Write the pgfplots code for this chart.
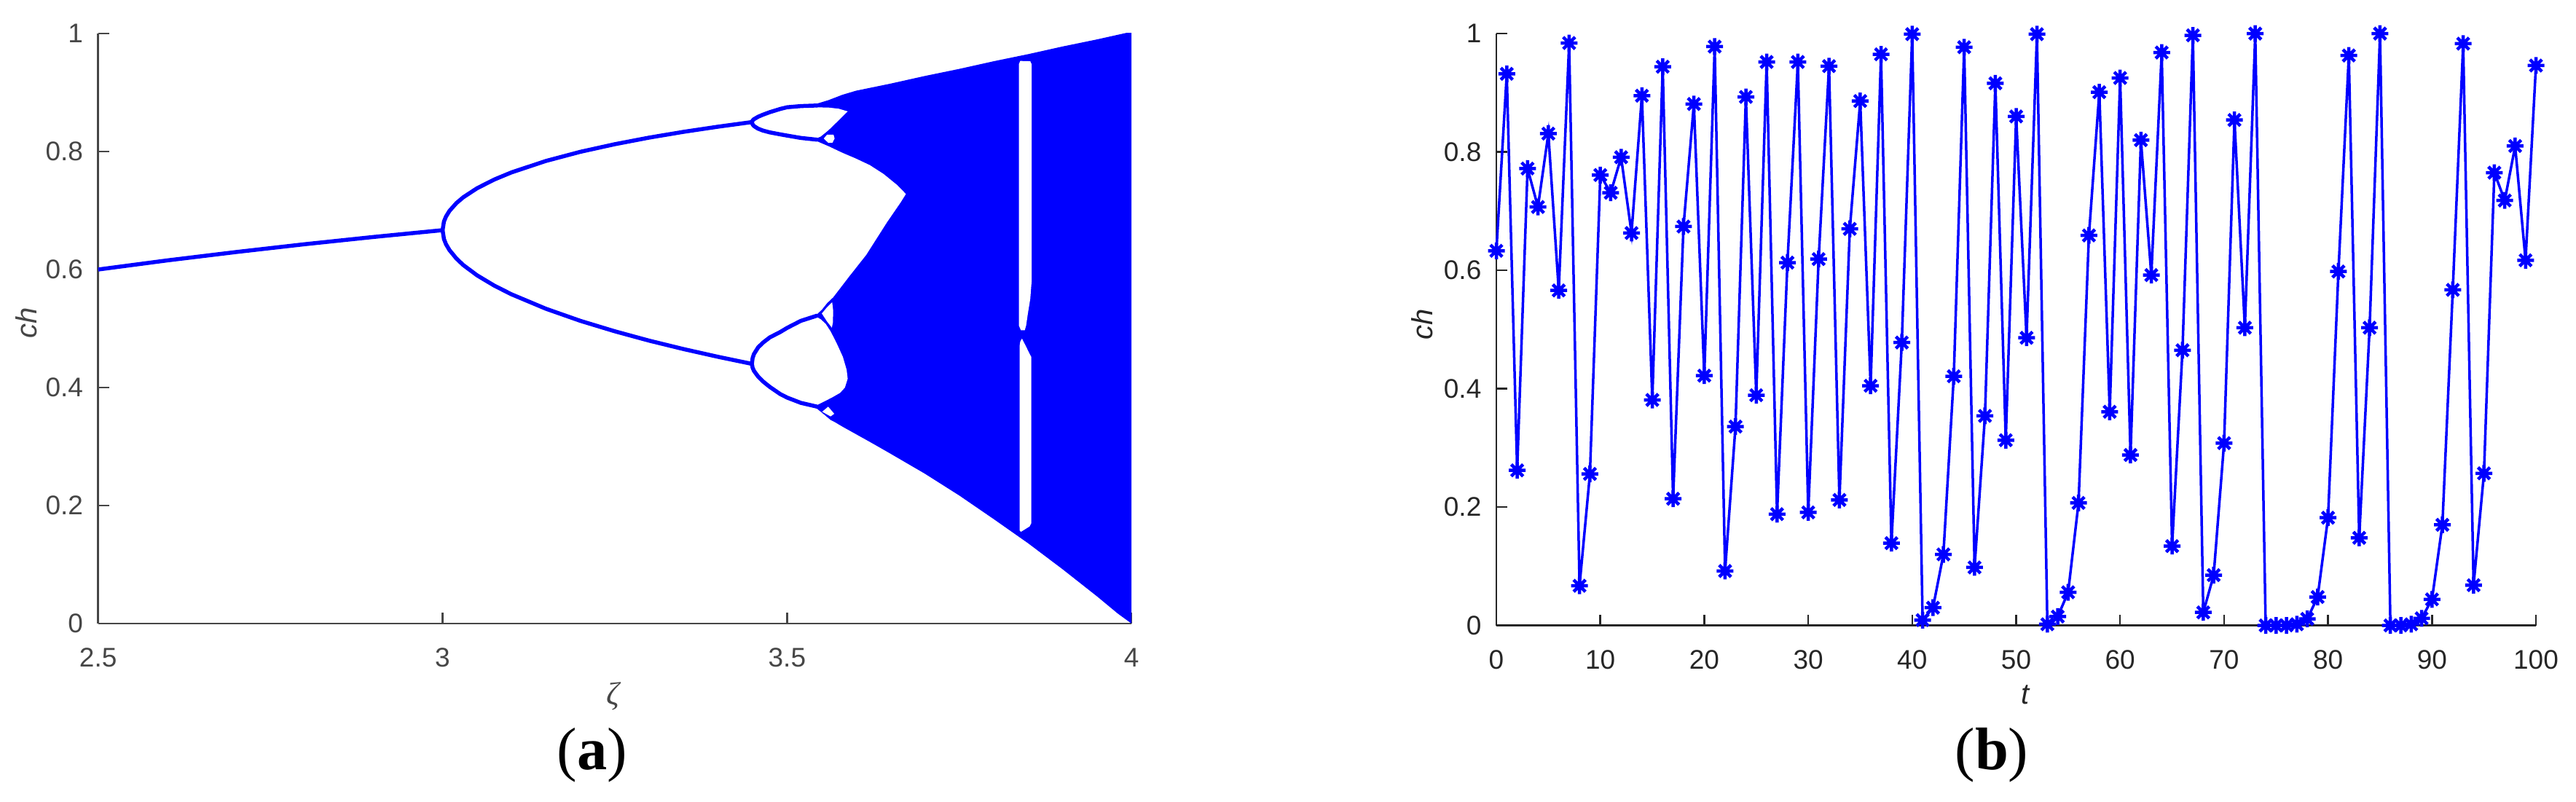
\documentclass[border=0pt]{standalone}
\usepackage{pgfplots}
\pgfplotsset{compat=1.18}
\usepackage{fontspec}
\setmainfont{Liberation Serif}
\setsansfont{Liberation Sans}
\definecolor{mblue}{RGB}{0,0,255}
\definecolor{axA}{RGB}{70,70,70}
\definecolor{axB}{RGB}{38,38,38}
\pgfdeclareplotmark{mstar}{%
  \pgfpathmoveto{\pgfqpoint{0pt}{\pgfplotmarksize}}\pgfpathlineto{\pgfqpoint{0pt}{-\pgfplotmarksize}}%
  \pgfpathmoveto{\pgfqpoint{\pgfplotmarksize}{0pt}}\pgfpathlineto{\pgfqpoint{-\pgfplotmarksize}{0pt}}%
  \pgfpathmoveto{\pgfqpoint{0.707\pgfplotmarksize}{0.707\pgfplotmarksize}}\pgfpathlineto{\pgfqpoint{-0.707\pgfplotmarksize}{-0.707\pgfplotmarksize}}%
  \pgfpathmoveto{\pgfqpoint{-0.707\pgfplotmarksize}{0.707\pgfplotmarksize}}\pgfpathlineto{\pgfqpoint{0.707\pgfplotmarksize}{-0.707\pgfplotmarksize}}%
  \pgfusepathqstroke}
\pgfplotsset{
  matstyle/.style={
    scale only axis, anchor=south west,
    axis x line*=bottom, axis y line*=left,
    axis line style={-, line width=0.5pt},
    tick align=inside, major tick length=3pt,
    ytick={0,0.2,0.4,0.6,0.8,1},
    yticklabels={0,0.2,0.4,0.6,0.8,1},
    ymin=0, ymax=1,
    tick label style={font=\sffamily\fontsize{7.4}{8}\selectfont},
    /pgf/number format/assume math mode=true,
    xticklabel style={yshift=-3.2pt},
    yticklabel style={xshift=-0.6pt},
  }
}
\begin{document}
\begin{tikzpicture}
\useasboundingbox (0,0) rectangle (707.2pt,220pt);
% ---------------- (a) bifurcation diagram ----------------
\begin{axis}[matstyle,
  at={(26.94pt,48.8pt)}, width=283.7pt, height=162pt,
  xmin=2.5, xmax=4,
  xtick={2.5,3,3.5,4}, xticklabels={2.5,3,3.5,4},
  axis line style={draw=axA}, tick style={draw=axA, line width=0.5pt},
  tick label style={text=axA},
  xlabel={\textit{ζ}}, ylabel={\textit{ch}},
  xlabel style={at={(axis description cs:0.4993,-0.1235)}, anchor=center, font=\fontsize{8.8}{9}\selectfont, text=axA},
  ylabel style={at={(axis description cs:-0.0696,0.509)}, anchor=center, font=\sffamily\fontsize{8}{9}\selectfont, text=axA},
]
% chaotic region
\addplot[fill=mblue, draw=none] coordinates {
 (3.543,0.881) (3.56,0.887) (3.58,0.896) (3.6,0.903) (3.65,0.915) (3.7,0.928)
 (3.75,0.940) (3.8,0.953) (3.85,0.965) (3.9,0.978) (3.95,0.990) (4.0,1.003)
 (4.0,0.0) (3.98,0.017) (3.95,0.046) (3.9,0.092) (3.85,0.136) (3.8,0.177)
 (3.75,0.217) (3.7,0.254) (3.65,0.288) (3.62,0.308) (3.6,0.321) (3.58,0.334)
 (3.57,0.341) (3.5633,0.345) (3.55,0.358) (3.543,0.3645)
};
% holes
\addplot[fill=white, draw=none] coordinates {
 (3.538,0.875) (3.56,0.8745) (3.575,0.8725) (3.588,0.868) (3.575,0.853)
 (3.56,0.836) (3.549,0.8255) (3.544,0.823) (3.538,0.823)
};
\addplot[fill=white, draw=none] coordinates {
 (3.5533,0.822) (3.558,0.8285) (3.5675,0.8285) (3.569,0.822) (3.566,0.815) (3.560,0.8145)
};
\addplot[fill=white, draw=none] coordinates {
 (3.538,0.817) (3.544,0.817) (3.56,0.809) (3.58,0.798) (3.60,0.788) (3.62,0.777) (3.64,0.762)
 (3.66,0.743) (3.6725,0.728) (3.665,0.714) (3.645,0.680) (3.615,0.625)
 (3.59,0.588) (3.567,0.553) (3.558,0.543) (3.5505,0.532) (3.544,0.525) (3.538,0.525)
};
\addplot[fill=white, draw=none] coordinates {
 (3.5505,0.5255) (3.558,0.536) (3.5655,0.5445) (3.567,0.53) (3.5665,0.51) (3.565,0.5015) (3.558,0.512)
};
\addplot[fill=white, draw=none] coordinates {
 (3.538,0.519) (3.544,0.519) (3.549,0.5155) (3.556,0.508) (3.5633,0.495) (3.572,0.475) (3.581,0.452)
 (3.5865,0.43) (3.588,0.415) (3.584,0.400) (3.577,0.391) (3.565,0.383) (3.555,0.377)
 (3.548,0.373) (3.544,0.3705) (3.538,0.3705)
};
\addplot[fill=white, draw=none] coordinates {
 (3.551,0.359) (3.5597,0.3675) (3.5685,0.3555) (3.5632,0.351)
};
\addplot[fill=white, draw=none] coordinates {
 (3.8365,0.948) (3.8385,0.9535) (3.853,0.953) (3.855,0.948) (3.855,0.58) (3.853,0.55)
 (3.8495,0.525) (3.847,0.505) (3.845,0.497) (3.8395,0.497) (3.8365,0.505)
};
\addplot[fill=white, draw=none] coordinates {
 (3.8385,0.478) (3.841,0.483) (3.8475,0.468) (3.8525,0.456) (3.8545,0.452) (3.8545,0.17)
 (3.852,0.1645) (3.8395,0.1555) (3.8375,0.158) (3.8375,0.47)
};
% periodic branches
\addplot[mblue, line width=1.1pt, line join=round] coordinates {
 (2.5,0.6) (2.6,0.6154) (2.7,0.6296) (2.8,0.6429) (2.9,0.6552) (3.0,0.6667)
 (3.002,0.6815) (3.005,0.6899) (3.01,0.6994) (3.02,0.7125) (3.03,0.7224) (3.05,0.7377)
 (3.075,0.7525) (3.1,0.7646) (3.15,0.7840) (3.2,0.7995) (3.25,0.8124) (3.3,0.8236)
 (3.35,0.8334) (3.4,0.8421) (3.449,0.8499)
 (3.450,0.8526) (3.452,0.8548) (3.458,0.8589) (3.465,0.8624) (3.475,0.8667) (3.49,0.8721)
 (3.5,0.875) (3.52,0.877) (3.544,0.878)
};
\addplot[mblue, line width=1.1pt, line join=round] coordinates {
 (3.0,0.6667) (3.002,0.6516) (3.005,0.6428) (3.01,0.6329) (3.02,0.6187) (3.03,0.6076)
 (3.05,0.5902) (3.075,0.5727) (3.1,0.5580) (3.15,0.5335) (3.2,0.5130) (3.25,0.4953)
 (3.3,0.4794) (3.35,0.4651) (3.4,0.4520) (3.449,0.4401)
 (3.450,0.4335) (3.452,0.4282) (3.458,0.4186) (3.465,0.4104) (3.475,0.401) (3.49,0.389)
 (3.5,0.383) (3.52,0.374) (3.544,0.3675)
};
\addplot[mblue, line width=1.1pt, line join=round] coordinates {
 (3.449,0.8499) (3.450,0.8459) (3.452,0.8431) (3.458,0.8387) (3.465,0.8355) (3.475,0.8324)
 (3.49,0.8291) (3.5,0.827) (3.52,0.823) (3.544,0.820)
};
\addplot[mblue, line width=1.1pt, line join=round] coordinates {
 (3.449,0.4401) (3.450,0.450) (3.452,0.4568) (3.458,0.468) (3.465,0.476) (3.475,0.485)
 (3.49,0.494) (3.5,0.501) (3.52,0.513) (3.544,0.522)
};
\end{axis}
% ---------------- (b) time series ----------------
\begin{axis}[matstyle,
  at={(410.8pt,48.28pt)}, width=285.4pt, height=162.5pt,
  xmin=0, xmax=100, clip=false,
  xtick={0,10,...,100},
  axis line style={draw=axB}, tick style={draw=axB, line width=0.5pt},
  tick label style={text=axB},
  xlabel={\textit{t}}, ylabel={\textit{ch}},
  xlabel style={at={(axis description cs:0.509,-0.1175)}, anchor=center, font=\sffamily\fontsize{8}{9}\selectfont, text=axB},
  ylabel style={at={(axis description cs:-0.0715,0.509)}, anchor=center, font=\sffamily\fontsize{8}{9}\selectfont, text=axB},
]
\addplot[mblue, line width=0.7pt, mark=mstar, mark size=2.3pt, mark options={line width=0.9pt}] table {
t y
0 0.633
1 0.932
2 0.262
3 0.772
4 0.707
5 0.831
6 0.566
7 0.984
8 0.067
9 0.256
10 0.761
11 0.731
12 0.791
13 0.663
14 0.895
15 0.381
16 0.944
17 0.214
18 0.674
19 0.881
20 0.422
21 0.978
22 0.092
23 0.336
24 0.893
25 0.389
26 0.952
27 0.188
28 0.613
29 0.952
30 0.191
31 0.619
32 0.945
33 0.212
34 0.670
35 0.886
36 0.405
37 0.965
38 0.139
39 0.478
40 0.999
41 0.009
42 0.030
43 0.120
44 0.421
45 0.977
46 0.098
47 0.354
48 0.916
49 0.313
50 0.860
51 0.486
52 0.999
53 0.002
54 0.015
55 0.056
56 0.207
57 0.659
58 0.901
59 0.361
60 0.925
61 0.288
62 0.820
63 0.592
64 0.968
65 0.134
66 0.465
67 0.997
68 0.022
69 0.085
70 0.308
71 0.854
72 0.503
73 1.000
74 0.000
75 0.000
76 0.000
77 0.002
78 0.011
79 0.048
80 0.182
81 0.598
82 0.963
83 0.148
84 0.503
85 1.000
86 0.000
87 0.000
88 0.002
89 0.012
90 0.044
91 0.170
92 0.567
93 0.983
94 0.068
95 0.257
96 0.765
97 0.718
98 0.810
99 0.617
100 0.946
};
\end{axis}
\node[font=\fontsize{16.5}{18}\selectfont] at (162.6pt,12.6pt) {(\textbf{a})};
\node[font=\fontsize{16.5}{18}\selectfont] at (546.8pt,12.6pt) {(\textbf{b})};
\end{tikzpicture}
\end{document}
